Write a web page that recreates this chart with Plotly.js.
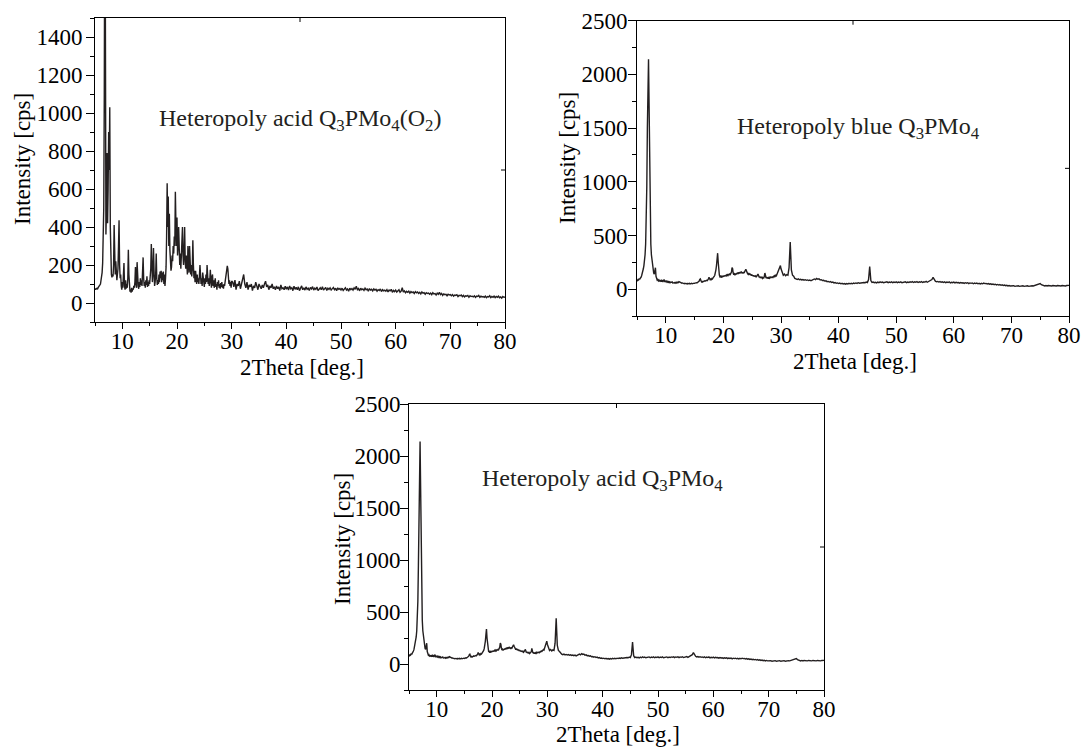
<!DOCTYPE html>
<html><head><meta charset="utf-8">
<script src="https://cdn.plot.ly/plotly-3.0.1.min.js"></script>
<style>html,body{margin:0;padding:0;background:#fff;}#chart{width:1083px;height:747px;}</style>
</head><body><div id="chart"></div>
<script>
// 2Theta sampling grids (deg.)
const lowStart = 5.0, lowStep = 0.1;    // 5.0 .. 30.0
const highStart = 30.2, highStep = 0.2; // 30.2 .. 80.0

// Heteropoly acid Q3PMo4(O2) intensities [cps]
const peroxoLow = [
  75, 70, 78, 72, 80, 76, 82, 85, 90, 95,
  100, 115, 130, 160, 210, 300, 500, 1100, 2300, 1500,
  360, 500, 790, 420, 600, 900, 700, 1030, 400, 170,
  150, 135, 150, 140, 200, 410, 180, 150, 220, 140,
  120, 150, 180, 300, 435, 200, 130, 150, 90, 70,
  110, 80, 150, 210, 90, 70, 120, 75, 100, 80,
  130, 280, 150, 80, 60, 70, 55, 80, 60, 75,
  70, 90, 80, 110, 190, 100, 80, 215, 120, 90,
  75, 110, 85, 130, 95, 120, 90, 150, 240, 130,
  90, 110, 80, 120, 95, 140, 85, 110, 90, 120,
  100, 140, 180, 310, 200, 110, 150, 290, 170, 90,
  110, 150, 260, 130, 95, 120, 100, 150, 110, 165,
  130, 170, 110, 160, 120, 165, 100, 150, 90, 130,
  190, 350, 630, 400, 560, 300, 470, 280, 200, 170,
  190, 250, 220, 300, 260, 350, 300, 585, 420, 300,
  450, 250, 300, 400, 230, 200, 260, 180, 250, 300,
  400, 250, 200, 280, 400, 220, 180, 250, 200, 150,
  300, 200, 160, 300, 190, 150, 200, 140, 180, 330,
  200, 130, 170, 110, 170, 120, 100, 150, 110, 130,
  100, 140, 200, 150, 100, 130, 90, 160, 120, 100,
  85, 130, 100, 150, 110, 200, 140, 100, 130, 90,
  120, 175, 110, 80, 140, 150, 90, 120, 80, 110,
  130, 85, 100, 70, 110, 90, 120, 80, 100, 75,
  105, 85, 110, 80, 95, 75, 100, 90, 115, 130,
  150, 170, 195, 180, 130, 100, 120, 90, 110, 80,
  115
];
const peroxoHigh = [
  110, 85, 120, 70, 100, 90, 115, 75, 105, 120,
  150, 100, 80, 110, 70, 95, 85, 100, 65, 90,
  80, 110, 95, 70, 100, 85, 75, 95, 80, 100,
  115, 85, 95, 70, 90, 80, 100, 75, 85, 70,
  90, 75, 85, 65, 95, 75, 80, 70, 88, 72,
  85, 68, 90, 75, 80, 65, 88, 72, 82, 70,
  85, 65, 78, 90, 70, 80, 68, 85, 72, 78,
  66, 82, 74, 86, 68, 78, 72, 84, 65, 76,
  80, 70, 85, 68, 76, 82, 66, 78, 72, 80,
  68, 76, 82, 70, 78, 64, 80, 72, 76, 68,
  78, 66, 75, 80, 68, 74, 62, 78, 70, 76,
  68, 80, 72, 88, 70, 76, 64, 78, 70, 74,
  66, 78, 70, 74, 62, 76, 68, 72, 64, 74,
  68, 72, 62, 70, 66, 74, 60, 70, 64, 68,
  62, 70, 58, 68, 64, 72, 56, 66, 60, 68,
  58, 64, 70, 56, 62, 80, 58, 64, 54, 62,
  56, 62, 52, 60, 55, 58, 50, 60, 54, 58,
  50, 56, 48, 58, 52, 55, 46, 54, 50, 52,
  46, 52, 44, 54, 48, 50, 42, 52, 46, 56,
  44, 50, 40, 48, 44, 46, 38, 46, 42, 44,
  38, 44, 36, 42, 40, 44, 34, 40, 38, 42,
  34, 40, 32, 38, 36, 40, 30, 38, 34, 36,
  32, 38, 30, 36, 34, 40, 30, 36, 32, 34,
  30, 36, 28, 34, 32, 38, 28, 34, 30, 36,
  28, 34, 30, 36, 28, 32, 26, 34, 30, 32
];

// Heteropoly blue Q3PMo4 intensities [cps]
const blueLow = [
  85, 80, 95, 88, 100, 92, 105, 110, 125, 140,
  165, 190, 220, 260, 320, 420, 600, 950, 1500, 2000,
  2140, 1700, 1000, 600, 420, 320, 260, 220, 180, 150,
  140, 170, 200, 120, 95, 85, 90, 78, 85, 72,
  80, 75, 82, 70, 78, 68, 80, 90, 72, 76,
  70, 75, 66, 72, 64, 70, 62, 68, 60, 66,
  62, 68, 58, 64, 60, 62, 56, 62, 58, 64,
  60, 66, 62, 70, 66, 68, 60, 62, 56, 58,
  52, 56, 50, 54, 48, 52, 50, 54, 48, 52,
  50, 54, 48, 52, 50, 55, 50, 54, 52, 56,
  54, 58, 55, 60, 58, 62, 60, 66, 75, 90,
  95, 80, 68, 72, 66, 74, 70, 78, 74, 80,
  76, 82, 80, 86, 95, 110, 100, 88, 95, 90,
  100, 96, 105, 110, 118, 130, 150, 180, 220, 280,
  335, 250, 170, 130, 115, 120, 108, 118, 110, 125,
  115, 128, 118, 130, 120, 132, 125, 135, 128, 140,
  130, 145, 138, 150, 160, 200, 190, 150, 135, 142,
  130, 145, 136, 150, 140, 155, 142, 158, 145, 160,
  148, 165, 150, 158, 145, 160, 150, 165, 175, 185,
  170, 150, 145, 138, 150, 135, 145, 130, 140, 125,
  135, 122, 130, 118, 128, 115, 122, 112, 118, 125,
  140, 130, 110, 118, 105, 115, 102, 110, 100, 108,
  104, 118, 150, 130, 104, 112, 100, 110, 98, 108,
  102, 112, 104, 115, 106, 118, 110, 120, 115, 125,
  120, 130, 125, 140, 135, 150, 165, 190, 215, 220,
  190
];
const blueHigh = [
  150, 130, 140, 125, 135, 130, 200, 440, 180, 130,
  120, 100, 95, 90, 96, 88, 92, 86, 90, 84,
  88, 82, 86, 80, 85, 78, 84, 90, 95, 88,
  100, 92, 96, 85, 88, 80, 82, 75, 78, 70,
  72, 66, 70, 62, 66, 58, 62, 55, 58, 52,
  56, 50, 54, 48, 52, 46, 52, 48, 54, 50,
  55, 50, 56, 52, 58, 54, 60, 55, 58, 62,
  58, 62, 60, 66, 62, 90, 210, 80, 62, 66,
  60, 64, 58, 66, 60, 68, 62, 66, 60, 64,
  62, 68, 60, 66, 62, 68, 60, 66, 62, 68,
  60, 66, 62, 68, 60, 64, 62, 68, 60, 66,
  62, 68, 64, 70, 62, 68, 64, 70, 62, 68,
  64, 70, 62, 68, 66, 72, 64, 70, 74, 80,
  90, 110, 85, 74, 68, 72, 66, 70, 64, 68,
  62, 68, 60, 66, 62, 68, 58, 64, 60, 66,
  58, 64, 60, 62, 56, 62, 58, 60, 54, 60,
  56, 60, 52, 58, 54, 58, 50, 56, 52, 56,
  50, 54, 48, 54, 50, 56, 52, 54, 48, 52,
  46, 50, 44, 48, 42, 46, 40, 44, 38, 42,
  36, 40, 34, 38, 32, 36, 30, 34, 30, 32,
  28, 32, 26, 30, 28, 32, 26, 30, 28, 32,
  26, 30, 28, 32, 26, 30, 28, 32, 30, 34,
  32, 36, 40, 48, 52, 42, 36, 32, 30, 34,
  30, 34, 32, 36, 30, 34, 32, 36, 30, 34,
  32, 36, 30, 34, 32, 36, 30, 34, 32, 35
];

// Heteropoly acid Q3PMo4 (same pattern as in the reference)
const acidLow = blueLow;
const acidHigh = blueHigh;

const panelLabels = [
  'Heteropoly acid Q<sub>3</sub>PMo<sub>4</sub>(O<sub>2</sub>)',
  'Heteropoly blue Q<sub>3</sub>PMo<sub>4</sub>',
  'Heteropoly acid Q<sub>3</sub>PMo<sub>4</sub>'
];
const xTitle = '2Theta [deg.]';
const yTitle = 'Intensity [cps]';

function grid(start, step, n) {
  const a = [];
  for (let i = 0; i < n; i++) a.push(+(start + i * step).toFixed(2));
  return a;
}
function series(low, high) {
  return {
    x: grid(lowStart, lowStep, low.length).concat(grid(highStart, highStep, high.length)),
    y: low.concat(high)
  };
}

const FONT = 'Liberation Serif';
const FS = 23;
const INK = '#231f20';
const tf = () => ({ family: FONT, size: FS, color: '#000' });

function trace(s, xa, ya) {
  return { type: 'scatter', mode: 'lines', x: s.x, y: s.y, xaxis: xa, yaxis: ya,
    line: { color: INK, width: 1.4 }, hoverinfo: 'x+y', showlegend: false };
}
function xAxis(domain, anchor) {
  return { domain, anchor, range: [5, 80], tick0: 0, dtick: 10, ticks: 'outside', ticklen: 6,
    tickwidth: 1, tickcolor: '#000', showline: true, linecolor: '#000', linewidth: 1, mirror: true,
    showgrid: false, zeroline: false, tickfont: tf(), ticklabelstandoff: -8,
    minor: { dtick: 5, tick0: 0, ticks: 'outside', ticklen: 3, tickcolor: '#000', tickwidth: 1, showgrid: false } };
}
function yAxis(domain, anchor, range, dtick, standoff) {
  return { domain, anchor, range, tick0: 0, dtick, ticks: 'outside', ticklen: 8,
    tickwidth: 1, tickcolor: '#000', showline: true, linecolor: '#000', linewidth: 1, mirror: true,
    showgrid: false, zeroline: false, tickfont: tf(), ticklabelstandoff: standoff,
    minor: { dtick: dtick / 2, tick0: 0, ticks: 'outside', ticklen: 4, tickcolor: '#000', tickwidth: 1, showgrid: false } };
}

const W = 1083, H = 747;
const data = [
  trace(series(peroxoLow, peroxoHigh), 'x', 'y'),
  trace(series(blueLow, blueHigh), 'x2', 'y2'),
  trace(series(acidLow, acidHigh), 'x3', 'y3')
];

function label(text, x, y, opts) {
  return Object.assign({ text, xref: 'paper', yref: 'paper', x: x / W, y: 1 - y / H,
    xanchor: 'center', yanchor: 'middle', showarrow: false, font: tf() }, opts || {});
}
// small mid ticks on the mirrored top / right frame lines
function midTicks(xa, ya, wPx, hPx) {
  const line = { color: '#000', width: 1 };
  return [
    { type: 'line', xref: xa + ' domain', yref: ya + ' domain', x0: 0.5, x1: 0.5, y0: 1, y1: 1 - 4 / hPx, line },
    { type: 'line', xref: xa + ' domain', yref: ya + ' domain', x0: 1, x1: 1 - 4 / wPx, y0: 0.5, y1: 0.5, line }
  ];
}

const layout = {
  width: W, height: H,
  margin: { l: 0, r: 0, t: 0, b: 0 },
  paper_bgcolor: '#fff', plot_bgcolor: '#fff',
  showlegend: false,
  font: tf(),
  xaxis: xAxis([95 / W, 505 / W], 'y'),
  yaxis: yAxis([1 - 322 / H, 1 - 18 / H], 'x', [-100, 1500], 200, -1),
  xaxis2: xAxis([637 / W, 1069 / W], 'y2'),
  yaxis2: yAxis([1 - 316 / H, 1 - 20.7 / H], 'x2', [-250, 2500], 500, -4),
  xaxis3: xAxis([409 / W, 824 / W], 'y3'),
  yaxis3: yAxis([1 - 690 / H, 1 - 404 / H], 'x3', [-250, 2500], 500, -5),
  shapes: [].concat(midTicks('x', 'y', 410, 304), midTicks('x2', 'y2', 432, 295), midTicks('x3', 'y3', 415, 286)),
  annotations: [
    label(panelLabels[0], 299.5, 120, { font: { family: FONT, size: 24, color: INK } }),
    label(panelLabels[1], 858.5, 128, { font: { family: FONT, size: 24, color: INK } }),
    label(panelLabels[2], 602, 480, { font: { family: FONT, size: 24, color: INK } }),
    label(xTitle, 302, 367),
    label(xTitle, 855, 361),
    label(xTitle, 618, 734),
    label(yTitle, 22, 159, { textangle: -90 }),
    label(yTitle, 568, 158, { textangle: -90 }),
    label(yTitle, 342, 539, { textangle: -90 })
  ]
};

Plotly.newPlot('chart', data, layout, { staticPlot: true, displayModeBar: false });
</script>
</body></html>
